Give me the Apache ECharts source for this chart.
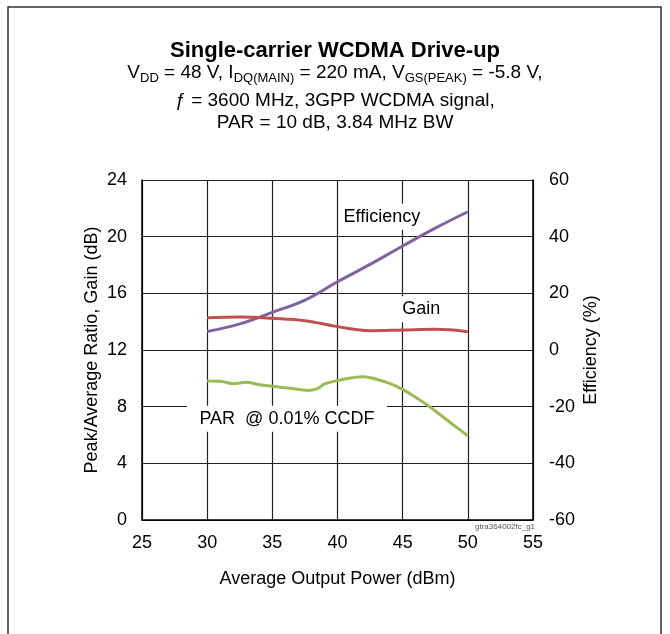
<!DOCTYPE html>
<html>
<head>
<meta charset="utf-8">
<script src="https://cdn.jsdelivr.net/npm/echarts@6/dist/echarts.min.js"></script>
<style>
  html, body { margin: 0; padding: 0; background: #fff; }
  #chart { width: 670px; height: 634px; }
</style>
</head>
<body>
<div id="chart"></div>
<script>
// data
var effX = [30, 32.5, 35, 37.5, 40, 42.5, 45, 47.5, 50];
var effY = [6.5, 9.2, 13.3, 17.6, 24.1, 30.2, 36.7, 43.0, 48.8];        // %
var gainX = [30, 32.5, 35, 37.5, 40, 42.5, 45, 47.5, 50];
var gainY = [14.28, 14.33, 14.24, 14.07, 13.65, 13.36, 13.41, 13.46, 13.29]; // dB
var parX = [30, 31, 32, 33, 34, 35, 36, 37, 37.8, 38.5, 39, 40, 41, 42, 43, 44, 45, 46, 47, 48, 49, 50];
var parY = [9.81, 9.79, 9.62, 9.72, 9.55, 9.44, 9.34, 9.22, 9.15, 9.29, 9.6, 9.84,
            10.02, 10.12, 9.93, 9.65, 9.22, 8.66, 8.05, 7.34, 6.64, 5.95];    // dB

var FONT = '"Liberation Sans", Arial, sans-serif';

function zip(xs, ys) {
  return xs.map(function (x, i) { return [x, ys[i]]; });
}

// white-boxed curve label, placed in data coordinates
function tag(text, coord, w) {
  return {
    symbol: 'rect', symbolSize: [w, 26], coord: coord,
    itemStyle: { color: '#fff' },
    label: { show: true, position: 'inside', formatter: text,
             color: '#000', fontSize: 18, fontFamily: FONT }
  };
}

var chart = echarts.init(document.getElementById('chart'));

chart.setOption({
  animation: false,
  textStyle: { fontFamily: FONT },
  title: [
    { text: 'Single-carrier WCDMA Drive-up', left: 'center', top: 35,
      textStyle: { fontSize: 22, fontWeight: 'bold', color: '#000', fontFamily: FONT } },
    { text: '{n|V}{s|DD}{n| = 48 V, I}{s|DQ(MAIN)}{n| = 220 mA, V}{s|GS(PEAK)}{n| = -5.8 V,}',
      left: 'center', top: 56,
      textStyle: { fontWeight: 'normal', rich: {
        n: { fontSize: 19, lineHeight: 24, color: '#000', fontFamily: FONT, fontWeight: 'normal' },
        s: { fontSize: 13, lineHeight: 16, color: '#000', fontFamily: FONT, fontWeight: 'normal',
             verticalAlign: 'bottom' }
      } } },
    { text: 'ƒ = 3600 MHz, 3GPP WCDMA signal,', left: 'center', top: 86,
      textStyle: { fontSize: 19, fontWeight: 'normal', color: '#000', fontFamily: FONT } },
    { text: 'PAR = 10 dB, 3.84 MHz BW', left: 'center', top: 108,
      textStyle: { fontSize: 19, fontWeight: 'normal', color: '#000', fontFamily: FONT } }
  ],
  graphic: [
    { type: 'rect', shape: { x: 8, y: 7, width: 653, height: 700 },
      style: { fill: 'none', stroke: '#333', lineWidth: 1.5 }, silent: true },
    { type: 'text', left: 475, top: 523,
      style: { text: 'gtra364002fc_g1', fontSize: 8, fill: '#555', fontFamily: FONT } }
  ],
  grid: { left: 142, right: 137, top: 180, bottom: 114, containLabel: false },
  xAxis: {
    type: 'value', min: 25, max: 55, interval: 5,
    name: 'Average Output Power (dBm)', nameLocation: 'middle', nameGap: 50,
    nameTextStyle: { fontSize: 18, color: '#000' },
    axisLine: { lineStyle: { color: '#000', width: 1.5 } },
    axisTick: { show: false },
    axisLabel: { fontSize: 18, color: '#000', margin: 14 },
    splitLine: { lineStyle: { color: '#222', width: 1.2 } }
  },
  yAxis: [
    { type: 'value', min: 0, max: 24, interval: 4,
      name: 'Peak/Average Ratio, Gain (dB)', nameLocation: 'middle', nameGap: 41,
      nameMoveOverlap: false,
      nameTextStyle: { fontSize: 18, color: '#000' },
      axisLine: { show: true, lineStyle: { color: '#000', width: 1.5 } },
      axisTick: { show: false },
      axisLabel: { fontSize: 18, color: '#000', margin: 15 },
      splitLine: { lineStyle: { color: '#222', width: 1.2 } } },
    { type: 'value', min: -60, max: 60, interval: 20, position: 'right',
      name: 'Efficiency (%)', nameLocation: 'middle', nameGap: 49,
      nameMoveOverlap: false,
      nameTextStyle: { fontSize: 18, color: '#000' },
      axisLine: { show: true, lineStyle: { color: '#000', width: 1.5 } },
      axisTick: { show: false },
      axisLabel: { fontSize: 18, color: '#000', margin: 16 },
      splitLine: { show: false } }
  ],
  series: [
    { name: 'Efficiency', type: 'line', yAxisIndex: 1, smooth: 0.4,
      data: zip(effX, effY), showSymbol: false,
      lineStyle: { color: '#8064A2', width: 3 },
      markPoint: { silent: true, data: [tag('Efficiency', [43.4, 47.0], 82)] } },
    { name: 'Gain', type: 'line', yAxisIndex: 0, smooth: 0.4,
      data: zip(gainX, gainY), showSymbol: false,
      lineStyle: { color: '#C0504D', width: 3 },
      markPoint: { silent: true, data: [tag('Gain', [46.43, 14.87], 44)] } },
    { name: 'PAR', type: 'line', yAxisIndex: 0, smooth: 0.4,
      data: zip(parX, parY), showSymbol: false,
      lineStyle: { color: '#9BBB59', width: 3 },
      markPoint: { silent: true, data: [tag('PAR  @ 0.01% CCDF', [36.12, 7.15], 200)] } }
  ]
});
</script>
</body>
</html>
